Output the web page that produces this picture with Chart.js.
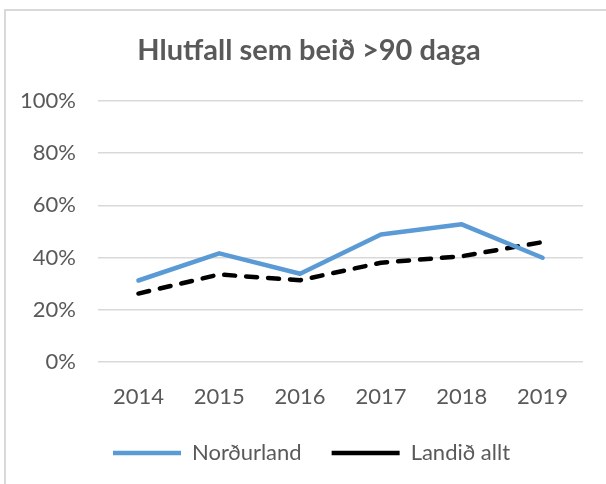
<!DOCTYPE html>
<html>
<head>
<meta charset="utf-8">
<script src="https://cdn.jsdelivr.net/npm/chart.js@4/dist/chart.umd.min.js"></script>
<style>
  body { margin: 0; background: #fff; }
  .frame { position: absolute; left: 4px; top: 9px; width: 640px; height: 520px; border: 2px solid #d9d9d9; }
  .wrap { position: absolute; left: 0; top: 0; width: 606px; height: 484px; }
</style>
</head>
<body>
<div class="frame"></div>
<div class="wrap"><canvas id="chart" width="606" height="484"></canvas></div>
<script>
// chart data
const years = ['2014', '2015', '2016', '2017', '2018', '2019'];
const nordurland = [31.2, 41.6, 33.8, 48.8, 52.7, 39.9];
const landidAllt = [26.2, 33.5, 31.3, 38.0, 40.5, 45.9];
const yTicks = [0, 20, 40, 60, 80, 100];

const textColor = '#595959';
const fontName = 'Lato';

// move the title and legend to where they sit in the original
const boxShift = {
    id: 'boxShift',
    afterLayout: function (chart) {
        const w = chart.legend.right - chart.legend.left;
        chart.legend.left = 83;
        chart.legend.right = 83 + w;
        chart.titleBlock.left = 35;
    }
};

const ctx = document.getElementById('chart').getContext('2d');
new Chart(ctx, {
    type: 'line',
    data: {
        labels: years,
        datasets: [
            {
                label: 'Norðurland',
                data: nordurland,
                borderColor: '#5b9bd5',
                backgroundColor: '#5b9bd5',
                borderWidth: 4.5,
                borderCapStyle: 'round',
                borderJoinStyle: 'round',
                pointRadius: 0,
                pointStyle: 'line',
                tension: 0
            },
            {
                label: 'Landið allt',
                data: landidAllt,
                borderColor: '#000000',
                backgroundColor: '#000000',
                borderWidth: 4.5,
                borderDash: [11, 11],
                borderCapStyle: 'round',
                borderJoinStyle: 'round',
                pointRadius: 0,
                pointStyle: 'line',
                tension: 0
            }
        ]
    },
    options: {
        responsive: false,
        animation: false,
        layout: { padding: { left: 0, right: 23, top: 20, bottom: 10 } },
        plugins: {
            title: {
                display: true,
                text: 'Hlutfall sem beið >90 daga',
                color: textColor,
                font: { family: fontName, size: 29, weight: 'bold' },
                padding: { top: 13, bottom: 33 }
            },
            legend: {
                position: 'bottom',
                align: 'start',
                labels: {
                    usePointStyle: true,
                    pointStyleWidth: 68,
                    padding: 30,
                    color: textColor,
                    font: { family: fontName, size: 22 }
                }
            },
            tooltip: { enabled: false }
        },
        scales: {
            x: {
                offset: true,
                grid: { display: false },
                border: { display: false },
                ticks: {
                    color: textColor,
                    padding: 14,
                    font: { family: fontName, size: 22 }
                },
                afterFit: function (scale) { scale.height = 50; }
            },
            y: {
                min: 0,
                max: 100,
                afterBuildTicks: function (scale) {
                    scale.ticks = yTicks.map(v => ({ value: v }));
                },
                grid: { color: '#d9d9d9', lineWidth: 1.5, drawTicks: false },
                border: { display: false },
                ticks: {
                    color: textColor,
                    padding: 22,
                    font: { family: fontName, size: 22 },
                    callback: v => v + '%'
                },
                afterFit: function (scale) { scale.width = 98; }
            }
        }
    },
    plugins: [boxShift]
});
</script>
</body>
</html>
